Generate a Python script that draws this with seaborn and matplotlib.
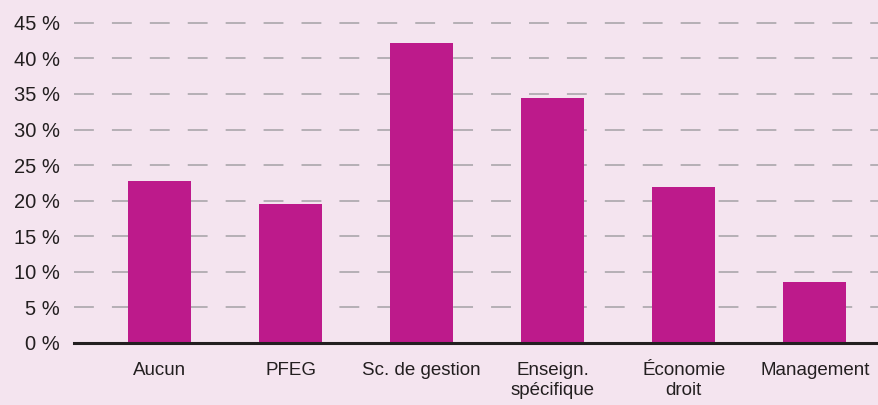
import matplotlib
matplotlib.use("Agg")
import matplotlib.pyplot as plt
import seaborn as sns
import pandas as pd
from matplotlib.ticker import FuncFormatter

# données
categories = ["Aucun", "PFEG", "Sc. de gestion", "Enseign.\nspécifique", "Économie\ndroit", "Management"]
values = [22.8, 19.5, 42.1, 34.4, 21.9, 8.6]

df = pd.DataFrame({"cat": categories, "val": values})

bg = "#f4e4ef"
bar_col = "#bd1a8b"

sns.set_theme(style="white")
plt.rcParams['font.family'] = ['Liberation Sans', 'DejaVu Sans']

fig = plt.figure(figsize=(8.79, 4.05), dpi=100, facecolor=bg)
ax = fig.add_axes([74 / 879, 62 / 405, 805 / 879, 343 / 405])
ax.set_facecolor(bg)

sns.barplot(data=df, x="cat", y="val", color=bar_col, width=0.48,
            saturation=1, linewidth=0, ax=ax, zorder=3)

ax.set_ylim(0, 48.2)
ax.set_xlim(-0.653, 5.49)
ax.set_yticks(range(0, 50, 5))
ax.yaxis.set_major_formatter(FuncFormatter(lambda v, p: f"{int(v)} %"))
ax.grid(axis="y", color="#b0abb0", linestyle=(0, (11, 10)), linewidth=1.3, zorder=0)
ax.set_axisbelow(True)

for s in ["top", "right", "left"]:
    ax.spines[s].set_visible(False)
ax.spines["bottom"].set_color("#231f20")
ax.spines["bottom"].set_linewidth(2.2)
ax.spines["bottom"].set_zorder(5)

ax.tick_params(axis="y", length=0, pad=10, labelsize=14.5, labelcolor="#231f20")
ax.tick_params(axis="x", length=0, pad=14, labelsize=13.5, labelcolor="#231f20")
for t in ax.get_xticklabels():
    t.set_linespacing(1.2)
ax.set_xlabel("")
ax.set_ylabel("")

fig.savefig("out.png", dpi=100, facecolor=bg)
